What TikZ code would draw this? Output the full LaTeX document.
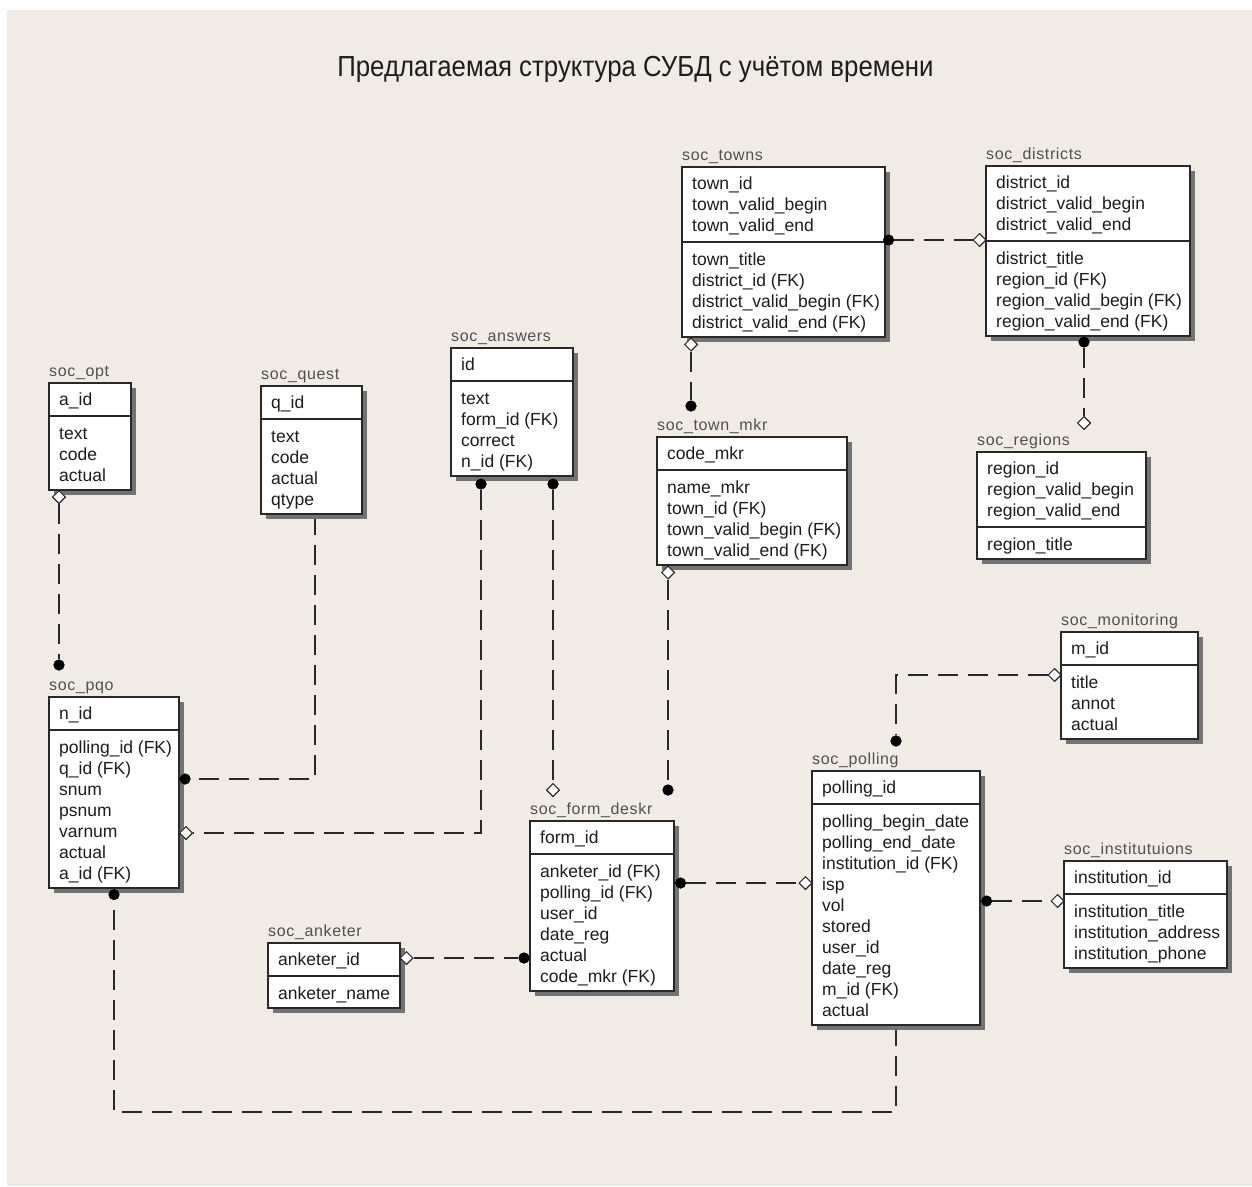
\documentclass[tikz,border=0pt]{standalone}
\usepackage{fontspec}
\setmainfont{Liberation Sans}
\newfontfamily\lblfont[LetterSpace=4]{Liberation Sans}
\newfontfamily\titlefont[FakeStretch=0.89]{Liberation Sans}
\usetikzlibrary{shapes.geometric}
\definecolor{bgc}{RGB}{240,236,229}
\definecolor{linec}{RGB}{40,40,40}
\definecolor{txtc}{RGB}{28,28,28}
\definecolor{lblc}{RGB}{80,80,80}
\definecolor{titlec}{RGB}{30,30,30}
\tikzset{
  tbl/.style={draw=linec, line width=1.3pt, fill=white, inner sep=0pt, outer sep=0pt, rectangle},
  fld/.style={font=\fontsize{17.5}{21}\selectfont, text=txtc, inner sep=0pt, anchor=base west},
  lbl/.style={font=\lblfont\fontsize{16}{19}\selectfont, text=lblc, inner sep=0pt, anchor=base west},
  rel/.style={draw=linec, line width=1.3pt, dash pattern=on 20pt off 10pt},
  dotm/.style={circle, fill=black, inner sep=0pt, minimum size=11pt},
  diam/.style={diamond, draw=linec, fill=white, line width=1pt, inner sep=0pt, minimum size=13pt},
  shadowbox/.style={fill=black!55},
  divline/.style={draw=linec, line width=1.3pt}
}
% #1 name, #2 x, #3 y top, #4 width, #5 label, #6 keys, #7 attrs, #8 nkeys, #9 nattrs
\newcommand\ertable[9]{%
  \pgfmathsetmacro\ertHH{33+21*(#8-1)}%
  \pgfmathsetmacro\ertBH{32+21*(#9-1)}%
  \pgfmathsetmacro\ertTH{\ertHH+\ertBH}%
  \fill[shadowbox] (#2+5,#3+5) rectangle ++(#4,\ertTH);
  \node[tbl, anchor=north west, minimum width=#4pt, minimum height=\ertTH pt] (#1) at (#2,#3) {};
  \draw[divline] (#2,#3+\ertHH) -- ++(#4,0);
  \node[lbl] (#1-lbl) at (#2,#3-7) {#5};
  \foreach \t [count=\i] in {#6} {\node[fld] (#1-k\i) at (#2+10,#3+22+21*\i-21) {\t};}
  \foreach \t [count=\i] in {#7} {\node[fld] (#1-a\i) at (#2+10,#3+\ertHH+23+21*\i-21) {\t};}
}
\begin{document}
\catcode`\_=12
\begin{tikzpicture}[x=1pt,y=-1pt]
\useasboundingbox (0,0) rectangle (1252,1186);
\fill[white] (0,0) rectangle (1252,1186);
\fill[bgc] (7,10) rectangle (1252,1186);

\node[font=\titlefont\fontsize{29}{34}\selectfont, text=titlec, anchor=base, inner sep=0pt] (title) at (635.5,76) {Предлагаемая структура СУБД с учётом времени};

% connector end points
\coordinate (questB) at (315,515);
\coordinate (pollB) at (896,1026);
\coordinate (bend) at (896,1112);

% connectors (drawn first)
\node[diam] (optD) at (59,497) {};
\node[dotm] (pqoT) at (59,665) {};
\node[dotm] (pqoR1) at (185,779) {};
\node[dotm] (ansB1) at (481,484) {};
\node[diam] (pqoR2) at (186,833) {};
\node[dotm] (ansB2) at (553,484) {};
\node[diam] (formT1) at (553,790) {};
\node[diam] (townsB) at (691,344.5) {};
\node[dotm] (mkrT) at (691,406) {};
\node[dotm] (townsR) at (888.5,240) {};
\node[diam] (distL) at (979.5,240) {};
\node[dotm] (distB) at (1084,342) {};
\node[diam] (regT) at (1084,423) {};
\node[diam] (mkrB) at (668,572.5) {};
\node[dotm] (formT2) at (668,790) {};
\node[dotm] (formR) at (680.5,883) {};
\node[diam] (pollL) at (805.5,883) {};
\node[diam] (anketR) at (406.5,958) {};
\node[dotm] (formL) at (524,958) {};
\node[diam] (monL) at (1054.5,675) {};
\node[dotm] (pollT) at (896,741) {};
\node[dotm] (pollR) at (986.5,901) {};
\node[diam] (instL) at (1057.5,901) {};
\node[dotm] (pqoB) at (114,894.5) {};

\draw[rel] (optD) -- (pqoT);
\draw[rel] (questB) |- (pqoR1);
\draw[rel] (ansB1) |- (pqoR2);
\draw[rel] (ansB2) -- (formT1);
\draw[rel] (townsB) -- (mkrT);
\draw[rel] (townsR) -- (distL);
\draw[rel] (distB) -- (regT);
\draw[rel] (mkrB) -- (formT2);
\draw[rel] (formR) -- (pollL);
\draw[rel] (anketR) -- (formL);
\draw[rel] (monL) -| (pollT);
\draw[rel] (pollR) -- (instL);
\draw[rel] (pollB) -- (bend) -| (pqoB);

% tables
\ertable{opt}{49}{383}{82}{soc_opt}{a_id}{text,code,actual}{1}{3}
\ertable{quest}{261}{386}{101}{soc_quest}{q_id}{text,code,actual,qtype}{1}{4}
\ertable{answers}{451}{348}{122}{soc_answers}{id}{text,form_id (FK),correct,n_id (FK)}{1}{4}
\ertable{towns}{682}{167}{203}{soc_towns}{town_id,town_valid_begin,town_valid_end}{town_title,district_id (FK),district_valid_begin (FK),district_valid_end (FK)}{3}{4}
\ertable{districts}{986}{166}{204}{soc_districts}{district_id,district_valid_begin,district_valid_end}{district_title,region_id (FK),region_valid_begin (FK),region_valid_end (FK)}{3}{4}
\ertable{mkr}{657}{437}{190}{soc_town_mkr}{code_mkr}{name_mkr,town_id (FK),town_valid_begin (FK),town_valid_end (FK)}{1}{4}
\ertable{regions}{977}{452}{169}{soc_regions}{region_id,region_valid_begin,region_valid_end}{region_title}{3}{1}
\ertable{monitoring}{1061}{632}{137}{soc_monitoring}{m_id}{title,annot,actual}{1}{3}
\ertable{polling}{812}{771}{168}{soc_polling}{polling_id}{polling_begin_date,polling_end_date,institution_id (FK),isp,vol,stored,user_id,date_reg,m_id (FK),actual}{1}{10}
\ertable{pqo}{49}{697}{130}{soc_pqo}{n_id}{polling_id (FK),q_id (FK),snum,psnum,varnum,actual,a_id (FK)}{1}{7}
\ertable{form}{530}{821}{144}{soc_form_deskr}{form_id}{anketer_id (FK),polling_id (FK),user_id,date_reg,actual,code_mkr (FK)}{1}{6}
\ertable{anketer}{268}{943}{132}{soc_anketer}{anketer_id}{anketer_name}{1}{1}
\ertable{inst}{1064}{861}{163}{soc_institutuions}{institution_id}{institution_title,institution_address,institution_phone}{1}{3}

% symbols on top
\foreach \n in {optD,pqoR2,formT1,townsB,distL,regT,mkrB,pollL,anketR,monL,instL} {\node[diam] at (\n) {};}
\foreach \n in {pqoT,pqoR1,ansB1,ansB2,mkrT,townsR,distB,formT2,formR,formL,pollT,pollR,pqoB} {\node[dotm] at (\n) {};}
\end{tikzpicture}
\end{document}
